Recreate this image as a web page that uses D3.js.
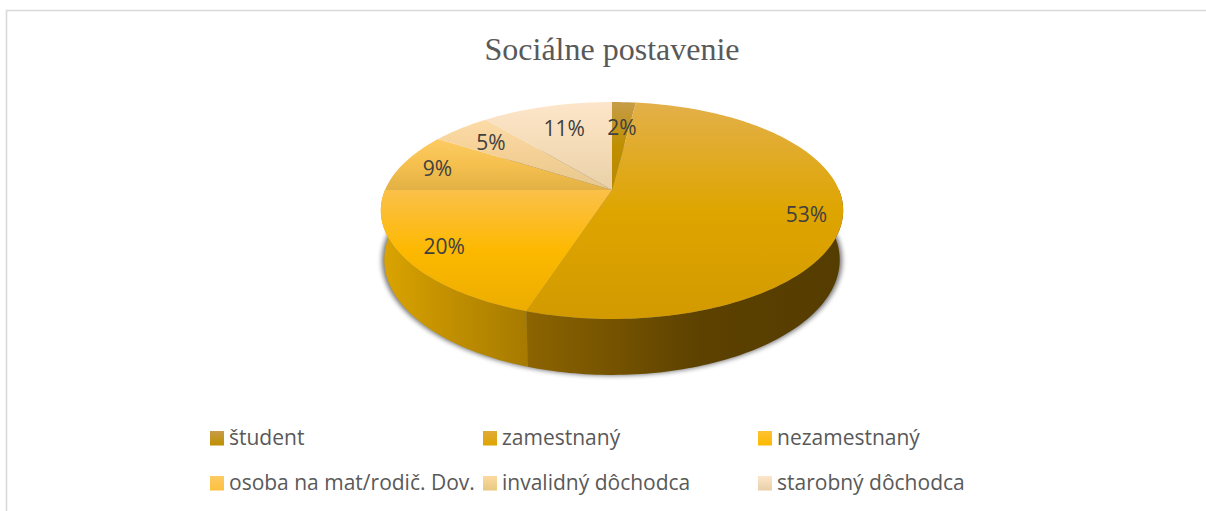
<!DOCTYPE html>
<html><head><meta charset="utf-8">
<script src="https://cdn.jsdelivr.net/npm/d3@7"></script>
<style>html,body{margin:0;padding:0;background:#fff;overflow:hidden}svg{display:block}</style>
</head><body><svg id="c" width="1206" height="511"></svg>
<script>
const title = "Sociálne postavenie";
const categories = ["študent","zamestnaný","nezamestnaný","osoba na mat/rodič. Dov.","invalidný dôchodca","starobný dôchodca"];
const values = [2,53,20,9,5,11];
const faceTop = ["#c69c48","#e3b04a","#fbc04a","#fdcb62","#fcdba8","#fde5ca"];
const faceMid = ["#bf8f00","#dea500","#fdb900","#f5c04e","#f4d096","#f5dcb8"];
const faceBot = ["#b98a00","#d39a00","#ecad00","#e2b044","#e6c88e","#e8d0a8"];
const wallLeft = ["#8f6600","#8d6400","#dba400","#dba400","#dba400","#dba400"];
const wallMid = ["#8f6600","#5c4100","#bd8c00","#dba400","#dba400","#dba400"];
const wallRight = ["#8f6600","#553c00","#a67a00","#dba400","#dba400","#dba400"];
const swatchTop = ["#c69c48","#e0aa38","#fdc232","#fdcb62","#fdd9a0","#fde5ca"];
const swatchBot = ["#bf8f00","#dfa500","#fdb900","#fdc040","#e8c880","#e8cfa8"];
const labelRadius = [0.68,0.85,0.83,0.83,0.77,0.70];
const labelTurnDeg = [0.6,2.4,0,-0.9,-0.7,0];

const svg = d3.select("#c");
const W = 1206, H = 511;
const defs = svg.append("defs");

// frame
svg.append("path").attr("d",`M${W},10.5H6.5V${H}`).attr("fill","none").attr("stroke","#d9d9d9").attr("stroke-width",1.6);

// title
svg.append("text").attr("x",612).attr("y",60).attr("text-anchor","middle")
  .attr("font-family","'Liberation Serif',serif").attr("font-size",32).attr("fill","#595959").text(title);

// perspective pie: u across, v toward the viewer, in unit-disc coordinates
const cx = 612, cy = 190, R = 227, A = 104.6, K = 0.189;
const depth = 48.2, lowerX = 0.985, lowerY = 1.06;
const project = (ang, r = 1, sx = 1, sy = 1, dz = 0) => {
  const u = r * Math.sin(ang), v = -r * Math.cos(ang), w = 1 - K * v;
  return [cx + R * sx * u / w, cy + dz + A * sy * v / w];
};
const pie = d3.pie().sort(null).value(d => d)(values);
const sample = (a0, a1, sx, sy, dz) => {
  const n = Math.max(2, Math.ceil(Math.abs(a1 - a0) / 0.02));
  return d3.range(n + 1).map(i => project(a0 + (a1 - a0) * i / n, 1, sx, sy, dz));
};
const line = d3.line();

function gradient(id, stops, horizontal) {
  const g = defs.append("linearGradient").attr("id", id)
    .attr("x1",0).attr("y1",0).attr("x2",horizontal?1:0).attr("y2",horizontal?0:1);
  stops.forEach(([o,c]) => g.append("stop").attr("offset",o).attr("stop-color",c));
}

// shadow under the disc
const blur = defs.append("filter").attr("id","sh").attr("x","-10%").attr("y","-10%").attr("width","120%").attr("height","120%");
blur.append("feGaussianBlur").attr("stdDeviation",2.4);
svg.append("path")
  .attr("d", line(sample(0, 2 * Math.PI, 0.995, lowerY, depth + 0.5)) + "Z")
  .attr("fill","#000").attr("opacity",0.55).attr("filter","url(#sh)");

// walls (front half only)
const wallG = svg.append("g");
pie.forEach((d,i) => {
  const a0 = Math.max(d.startAngle, Math.PI/2), a1 = Math.min(d.endAngle, 3*Math.PI/2);
  if (a1 <= a0) return;
  const top = sample(a0, a1, 1, 1, 0), low = sample(a1, a0, lowerX, lowerY, depth);
  const leftC = i === 1 ? wallLeft[i] : wallLeft[i];
  gradient("w"+i, [[0,leftC],[0.55,wallMid[i]],[1,wallRight[i]]], true);
  wallG.append("path").attr("d", line(top.concat(low)) + "Z").attr("fill",`url(#w${i})`);
});

// faces
const faceG = svg.append("g");
pie.forEach((d,i) => {
  gradient("f"+i, [[0,faceTop[i]],[0.5,faceMid[i]],[1,faceBot[i]]]);
  const pts = [[cx,cy]].concat(sample(d.startAngle, d.endAngle, 1, 1, 0));
  faceG.append("path").attr("d", line(pts) + "Z").attr("fill",`url(#f${i})`);
});

// data labels
svg.append("g").selectAll("text").data(pie).join("text")
  .attr("text-anchor","middle")
  .attr("font-family","'Open Sans',sans-serif").attr("font-size",21).attr("fill","#404040")
  .attr("transform",(d,i)=>{
    const p = project((d.startAngle+d.endAngle)/2 + labelTurnDeg[i]*Math.PI/180, labelRadius[i]);
    return `translate(${p[0]},${p[1]+7.5})`;
  })
  .text(d=>d.value+"%");

// legend
const colX = d3.scalePoint().domain([0,1,2]).range([210,758]);
const rowY = d3.scalePoint().domain([0,1]).range([431,476]);
categories.forEach((c,i)=>gradient("s"+i,[[0,swatchTop[i]],[1,swatchBot[i]]]));
const leg = svg.append("g").selectAll("g").data(categories).join("g")
  .attr("transform",(d,i)=>`translate(${colX(i%3)+(i%3===1?-1:0)},${rowY(Math.floor(i/3))})`);
leg.append("rect").attr("width",14).attr("height",14.5).attr("fill",(d,i)=>`url(#s${i})`);
leg.append("text").attr("x",19).attr("y",14)
  .attr("font-family","'Open Sans',sans-serif").attr("font-size",21).attr("fill","#595959").text(d=>d);
</script></body></html>
